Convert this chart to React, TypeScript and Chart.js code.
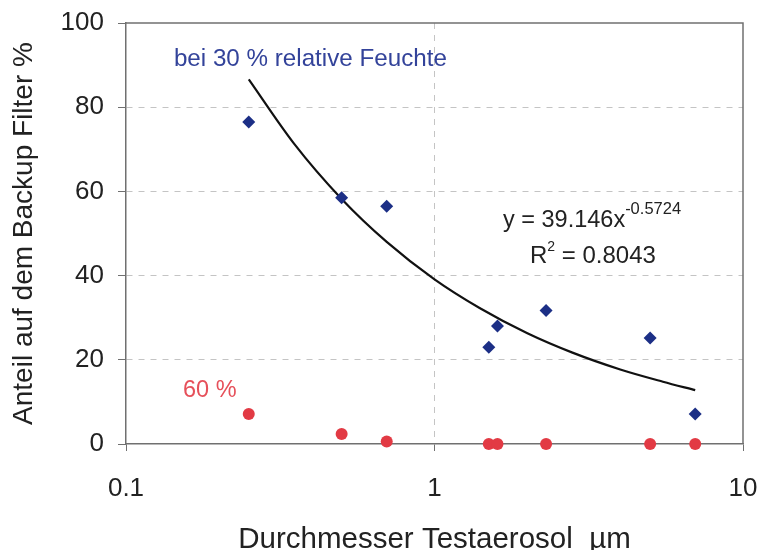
import React, { useEffect, useRef } from "react";
import { Chart, registerables } from "chart.js";

Chart.register(...registerables);

const diameters30 = [0.25, 0.5, 0.7, 1.5, 1.6, 2.3, 5, 7];
const share30 = [76.5, 58.5, 56.5, 23, 28, 31.7, 25.2, 7.1];
const diameters60 = [0.25, 0.5, 0.7, 1.5, 1.6, 2.3, 5, 7];
const share60 = [7.1, 2.4, 0.6, 0, 0, 0, 0, 0];
const trendX = [0.25, 0.35, 0.5, 0.7, 1, 1.4, 2, 2.8, 4, 5.5, 7];
const trendY = [86.6, 71.4, 58.2, 48.0, 39.1, 32.3, 26.3, 21.7, 17.7, 14.8, 12.8];
const xTicks = [0.1, 1, 10];
const yTicks = [0, 20, 40, 60, 80, 100];
const xTitle = "Durchmesser Testaerosol  µm";
const yTitle = "Anteil auf dem Backup Filter %";
const label30 = "bei 30 % relative Feuchte";
const label60 = "60 %";
const eqMain = "y = 39.146x";
const eqExp = "-0.5724";
const r2Main = "R";
const r2Sup = "2";
const r2Rest = " = 0.8043";

const FONT = "'Liberation Sans', Arial, sans-serif";
const BLUE = "#1c2f86";
const RED = "#e23a44";
const FRAME = "#707070";
const GRID = "#c4c4c4";

const framePlugin = {
  id: "frameAndText",
  afterDraw(chart: any) {
    const { ctx, chartArea: a, scales } = chart;
    const xs = scales.x;
    const ys = scales.y;
    ctx.save();
    ctx.strokeStyle = FRAME;
    ctx.lineWidth = 1.5;
    ctx.beginPath();
    ctx.moveTo(a.left, a.top);
    ctx.lineTo(a.right, a.top);
    ctx.lineTo(a.right, a.bottom);
    ctx.stroke();

    ctx.textBaseline = "alphabetic";
    ctx.textAlign = "left";
    ctx.fillStyle = "#33439a";
    ctx.font = `24.2px ${FONT}`;
    ctx.fillText(label30, xs.getPixelForValue(0.143), ys.getPixelForValue(89.8));
    ctx.fillStyle = "#e6505a";
    ctx.font = `23.5px ${FONT}`;
    ctx.fillText(label60, xs.getPixelForValue(0.153), ys.getPixelForValue(11.2));

    ctx.fillStyle = "#222";
    const ex = xs.getPixelForValue(1.667);
    const ey = ys.getPixelForValue(51.5);
    ctx.font = `23.5px ${FONT}`;
    ctx.fillText(eqMain, ex, ey);
    const w1 = ctx.measureText(eqMain).width;
    ctx.font = `16.5px ${FONT}`;
    ctx.fillText(eqExp, ex + w1, ey - 13);
    const rx = xs.getPixelForValue(2.04);
    const ry = ys.getPixelForValue(43);
    ctx.font = `24px ${FONT}`;
    ctx.fillText(r2Main, rx, ry);
    const w2 = ctx.measureText(r2Main).width;
    ctx.font = `14px ${FONT}`;
    ctx.fillText(r2Sup, rx + w2, ry - 12);
    const w3 = ctx.measureText(r2Sup).width;
    ctx.font = `24px ${FONT}`;
    ctx.fillText(r2Rest, rx + w2 + w3, ry);
    ctx.restore();
  },
};

export default function App() {
  const ref = useRef<HTMLCanvasElement>(null);
  useEffect(() => {
    document.body.style.margin = "0";
    const chart = new Chart(ref.current as HTMLCanvasElement, {
      type: "scatter",
      data: {
        datasets: [
          {
            label: "Trend",
            data: trendX.map((x, i) => ({ x, y: trendY[i] })),
            showLine: true,
            borderColor: "#111",
            borderWidth: 2.2,
            pointRadius: 0,
            cubicInterpolationMode: "monotone",
            order: 3,
          } as any,
          {
            label: "30 %",
            data: diameters30.map((x, i) => ({ x, y: share30[i] })),
            pointStyle: "rectRot",
            pointRadius: 6.5,
            backgroundColor: BLUE,
            borderColor: BLUE,
            borderWidth: 0,
            clip: false,
            order: 1,
          } as any,
          {
            label: "60 %",
            data: diameters60.map((x, i) => ({ x, y: share60[i] })),
            pointStyle: "circle",
            pointRadius: 6,
            backgroundColor: RED,
            borderColor: RED,
            borderWidth: 0,
            clip: false,
            order: 2,
          } as any,
        ],
      },
      options: {
        animation: false,
        responsive: false,
        maintainAspectRatio: false,
        layout: { padding: { left: 0, right: 18, top: 23, bottom: 0 } },
        plugins: { legend: { display: false }, tooltip: { enabled: false } },
        scales: {
          x: {
            type: "logarithmic",
            min: 0.1,
            max: 10,
            afterBuildTicks: (s: any) => {
              s.ticks = xTicks.map((v) => ({ value: v }));
            },
            afterFit: (s: any) => {
              s.height = 106;
              s.paddingLeft = 0;
              s.paddingRight = 0;
            },
            ticks: {
              autoSkip: false,
              maxRotation: 0,
              padding: 22,
              color: "#222",
              font: { family: FONT, size: 26 },
              callback: (v: any) => String(v),
            },
            grid: {
              color: (c: any) => (c.tick && c.tick.value === 1 ? GRID : "rgba(0,0,0,0)"),
              tickColor: FRAME,
              tickLength: 7,
              tickBorderDash: [],
              lineWidth: 1,
            } as any,
            border: { color: FRAME, width: 1.5, dash: [6, 6] } as any,
            title: {
              display: true,
              text: xTitle,
              color: "#222",
              font: { family: FONT, size: 29.5, lineHeight: 1 },
              padding: { top: 0, bottom: -5 },
            },
          },
          y: {
            min: 0,
            max: 100,
            afterBuildTicks: (s: any) => {
              s.ticks = yTicks.map((v) => ({ value: v }));
            },
            afterFit: (s: any) => {
              s.width = 126;
              s.paddingTop = 0;
              s.paddingBottom = 0;
            },
            ticks: {
              padding: 14,
              color: "#222",
              font: { family: FONT, size: 26 },
            },
            grid: {
              color: (c: any) =>
                c.tick && (c.tick.value === 0 || c.tick.value === 100) ? "rgba(0,0,0,0)" : GRID,
              tickColor: FRAME,
              tickLength: 8,
              tickBorderDash: [],
            } as any,
            border: { color: FRAME, width: 1.5, dash: [6, 6] } as any,
            title: {
              display: true,
              text: yTitle,
              color: "#222",
              font: { family: FONT, size: 28, lineHeight: 1.2 },
              padding: { top: 7, bottom: 0 },
            },
          },
        },
      } as any,
      plugins: [framePlugin],
    });
    return () => chart.destroy();
  }, []);
  return (
    <div style={{ position: "absolute", left: 0, top: 0, width: 761, height: 550 }}>
      <canvas ref={ref} width={761} height={550} style={{ display: "block" }} />
    </div>
  );
}
